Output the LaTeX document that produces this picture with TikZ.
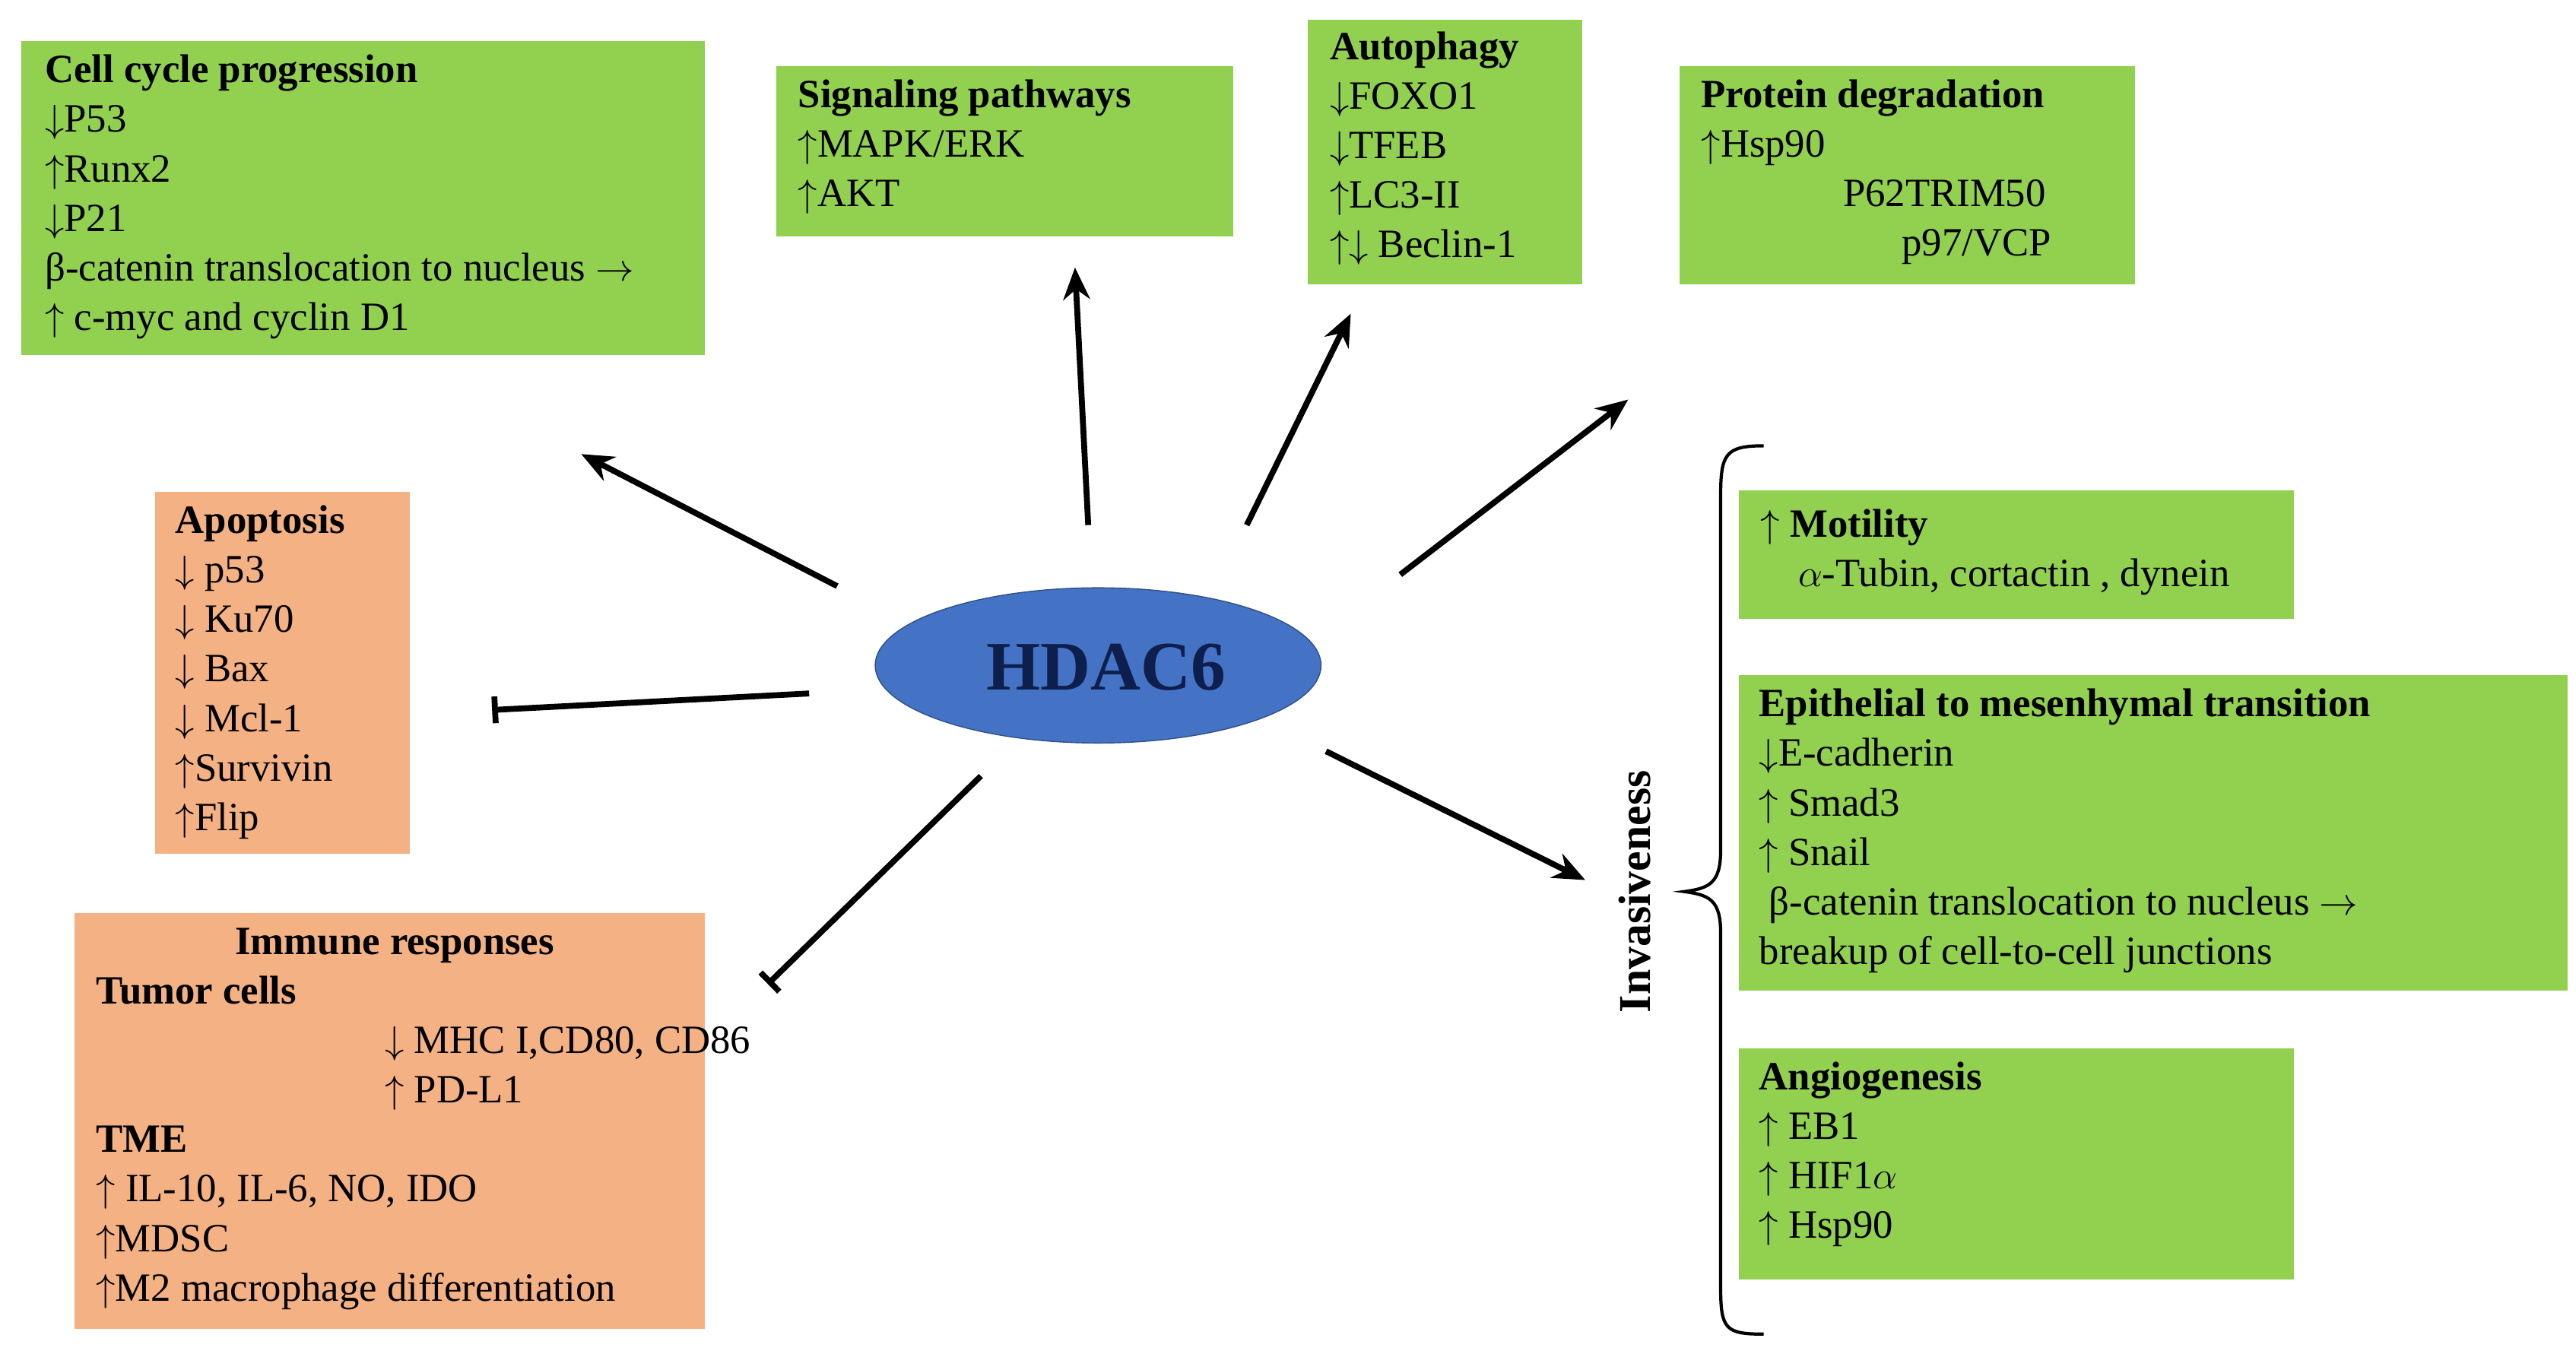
\documentclass[tikz,border=0pt]{standalone}
\usepackage{fontspec}
\setmainfont{Liberation Serif}
\usetikzlibrary{arrows.meta}
\definecolor{gbox}{HTML}{92D050}
\definecolor{obox}{HTML}{F4B183}
\definecolor{hblue}{HTML}{4472C4}
\definecolor{hnavy}{HTML}{0E1F4D}
\newcommand{\U}{$\uparrow$}
\newcommand{\D}{$\downarrow$}
\begin{document}
\begin{tikzpicture}[x=0.02172cm,y=-0.02172cm,
  txt/.style={anchor=north west,inner sep=0pt,align=left,font=\fontsize{15}{18.5}\selectfont},
  arr/.style={line width=2.2pt,-{Stealth[length=12pt,width=10pt]}},
  bar/.style={line width=2.2pt,-{Bar[width=10pt]}}]
\useasboundingbox (0,0) rectangle (1560,820);
% boxes
\fill[gbox] (13,25) rectangle (427,215);
\fill[gbox] (470,40) rectangle (747,143);
\fill[gbox] (792,12) rectangle (958,172);
\fill[gbox] (1017,40) rectangle (1293,172);
\fill[obox] (94,298) rectangle (248,517);
\fill[obox] (45,553) rectangle (427,805);
\fill[gbox] (1053,297) rectangle (1389,375);
\fill[gbox] (1053,409) rectangle (1555,600);
\fill[gbox] (1053,635) rectangle (1389,775);
% texts
\node[txt] (cc) at (27,33) {\textbf{Cell cycle progression}\\\D P53\\\U Runx2\\\D P21\\β-catenin translocation to nucleus $\rightarrow$\\\U\ c-myc and cyclin D1};
\node[txt] (sp) at (483,48) {\textbf{Signaling pathways}\\\U MAPK/ERK\\\U AKT};
\node[txt] (au) at (805,19) {\textbf{Autophagy}\\\D FOXO1\\\D TFEB\\\U LC3-II\\\U\D\ Beclin-1};
\node[txt] (pd) at (1030,48) {\textbf{Protein degradation}\\\U Hsp90\\\hspace{53pt}P62TRIM50\\\hspace{75pt}p97/VCP};
\node[txt] (ap) at (106,306) {\textbf{Apoptosis}\\\D\ p53\\\D\ Ku70\\\D\ Bax\\\D\ Mcl-1\\\U Survivin\\\U Flip};
\node[txt] (im) at (58,562) {\hspace{52pt}\textbf{Immune responses}\\\textbf{Tumor cells}\\\hspace{108pt}\D\ MHC I,CD80, CD86\\\hspace{108pt}\U\ PD-L1\\\textbf{TME}\\\U\ IL-10, IL-6, NO, IDO\\\U MDSC\\\U M2 macrophage differentiation};
\node[txt] (mo) at (1066,308) {\U\ \textbf{Motility}\\\hspace{14pt}$\alpha$-Tubin, cortactin , dynein};
\node[txt] (em) at (1065,417) {\textbf{Epithelial to mesenhymal transition}\\\D E-cadherin\\\U\ Smad3\\\U\ Snail\\\ β-catenin translocation to nucleus $\rightarrow$\\breakup of cell-to-cell junctions};
\node[txt] (an) at (1065,643) {\textbf{Angiogenesis}\\\U\ EB1\\\U\ HIF1$\alpha$\\\U\ Hsp90};
% HDAC6
\fill[hblue] (665,403) ellipse [x radius=135,y radius=47];
\draw[hblue!70!black] (665,403) ellipse [x radius=135,y radius=47];
\node[font=\fontsize{26}{30}\selectfont\bfseries,text=hnavy] (hd) at (670,404) {HDAC6};
% connectors
\coordinate (a1s) at (507,355); \coordinate (a1e) at (352,275);
\coordinate (a2s) at (659,318); \coordinate (a2e) at (651,162);
\coordinate (a3s) at (755,318); \coordinate (a3e) at (818,190);
\coordinate (a4s) at (848,348); \coordinate (a4e) at (986,242);
\coordinate (b1s) at (490,420); \coordinate (b1e) at (298,430);
\coordinate (b2s) at (594,470); \coordinate (b2e) at (465,596);
\coordinate (a5s) at (803,455); \coordinate (a5e) at (960,533);
\draw[arr] (a1s) -- (a1e);
\draw[arr] (a2s) -- (a2e);
\draw[arr] (a3s) -- (a3e);
\draw[arr] (a4s) -- (a4e);
\draw[bar] (b1s) -- (b1e);
\draw[bar] (b2s) -- (b2e);
\draw[arr] (a5s) -- (a5e);
% brace
\draw[line width=1.2pt] (1068,270) .. controls (1045,270) and (1042,275) .. (1042,300)
  -- (1042,515) .. controls (1042,535) and (1035,538) .. (1020,540)
  .. controls (1035,542) and (1042,545) .. (1042,565) -- (1042,780)
  .. controls (1042,805) and (1045,808) .. (1068,808);
\node[rotate=90,font=\fontsize{17}{20}\selectfont\bfseries] (inv) at (990,540) {Invasiveness};
\end{tikzpicture}
\end{document}
